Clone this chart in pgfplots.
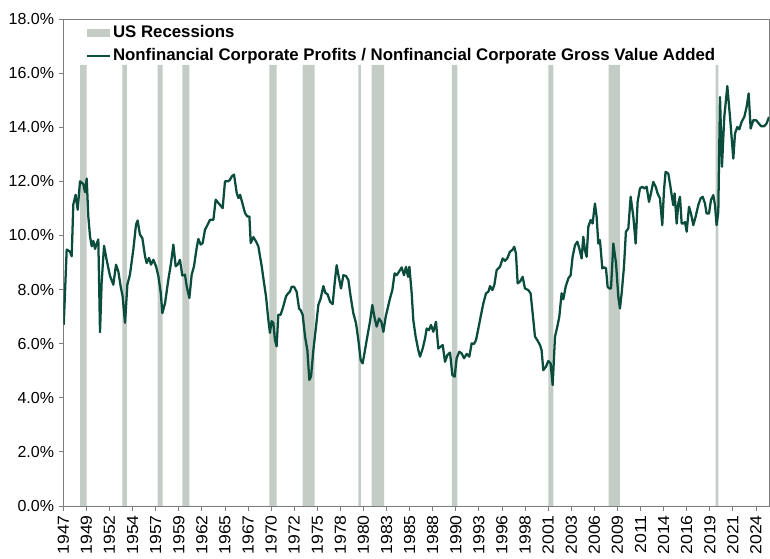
\documentclass[border=0pt]{standalone}
\usepackage{fontspec}
\setmainfont{Liberation Sans}
\newfontfamily\stretchfont[FakeStretch=1.1]{Liberation Sans}
\usepackage{pgfplots}
\usepackage{pgfplotstable}
\pgfplotsset{compat=1.18}
\definecolor{recgray}{RGB}{195,204,197}
\definecolor{linegreen}{RGB}{10,77,60}
\definecolor{axgray}{RGB}{125,125,125}

\pgfplotstableread{
x y
1947.05 6.70
1947.38 9.48
1947.75 9.40
1947.94 9.23
1948.12 11.14
1948.38 11.50
1948.61 10.95
1948.87 12.00
1949.24 11.90
1949.43 11.60
1949.62 12.10
1949.80 10.70
1949.99 9.97
1950.18 9.60
1950.36 9.80
1950.55 9.50
1950.74 9.70
1950.92 9.85
1951.11 6.42
1951.29 8.24
1951.56 9.62
1951.85 9.10
1952.23 8.50
1952.60 8.18
1952.90 8.92
1953.16 8.67
1953.42 8.12
1953.64 7.75
1953.91 6.77
1954.17 8.18
1954.46 8.55
1954.84 9.48
1955.14 10.40
1955.32 10.55
1955.58 10.03
1955.85 9.90
1956.15 9.23
1956.33 8.98
1956.59 9.17
1956.82 8.92
1957.09 9.10
1957.38 8.86
1957.64 8.50
1957.91 7.87
1958.09 7.13
1958.39 7.50
1958.76 8.37
1959.06 8.98
1959.32 9.66
1959.58 8.86
1959.80 8.92
1960.06 9.10
1960.32 8.52
1960.62 8.55
1960.81 8.12
1961.11 7.69
1961.37 8.55
1961.63 8.86
1961.93 9.54
1962.12 9.87
1962.38 9.66
1962.60 9.72
1962.86 10.21
1963.16 10.40
1963.42 10.58
1963.80 10.58
1964.06 11.32
1964.36 11.20
1964.84 11.01
1965.10 12.00
1965.47 12.00
1965.66 12.06
1965.85 12.18
1966.11 12.25
1966.41 11.57
1966.60 11.38
1966.79 11.50
1967.04 11.20
1967.34 10.83
1967.60 10.70
1967.83 10.70
1967.98 9.72
1968.28 9.94
1968.57 9.78
1968.83 9.60
1969.21 8.86
1969.47 8.24
1969.69 7.75
1969.95 6.89
1970.13 6.40
1970.32 6.83
1970.51 6.77
1970.69 6.15
1970.88 5.90
1971.07 7.07
1971.33 7.07
1971.63 7.38
1971.93 7.75
1972.19 7.87
1972.38 7.93
1972.56 8.10
1972.83 8.10
1973.12 7.92
1973.39 7.30
1973.57 7.24
1973.80 7.06
1974.06 6.26
1974.32 5.76
1974.54 4.66
1974.73 4.78
1974.99 5.76
1975.29 6.63
1975.55 7.43
1975.81 7.67
1976.11 8.13
1976.33 7.88
1976.59 7.82
1976.86 7.55
1977.15 7.46
1977.41 8.35
1977.60 8.90
1977.83 8.47
1978.09 8.04
1978.35 8.53
1978.65 8.50
1978.91 8.35
1979.17 7.73
1979.47 7.12
1979.77 6.75
1980.03 6.13
1980.29 5.39
1980.51 5.27
1980.77 5.76
1981.03 6.26
1981.33 6.81
1981.59 7.43
1981.82 7.00
1982.08 6.63
1982.34 6.93
1982.60 6.81
1982.83 6.44
1983.09 7.00
1983.35 7.36
1983.57 7.67
1983.83 7.98
1984.09 8.60
1984.32 8.53
1984.58 8.66
1984.88 8.82
1985.14 8.53
1985.36 8.84
1985.59 8.47
1985.74 8.84
1986.00 7.86
1986.18 6.87
1986.44 6.26
1986.74 5.76
1986.93 5.52
1987.23 5.82
1987.49 6.19
1987.68 6.56
1987.94 6.50
1988.16 6.69
1988.42 6.44
1988.72 6.81
1988.98 5.82
1989.24 5.89
1989.47 5.95
1989.73 5.33
1989.99 5.58
1990.29 5.67
1990.55 4.84
1990.81 4.78
1991.03 5.46
1991.33 5.70
1991.59 5.64
1991.86 5.46
1992.15 5.62
1992.45 5.52
1992.71 6.01
1992.97 5.99
1993.20 6.13
1993.46 6.56
1993.72 7.00
1994.02 7.49
1994.32 7.86
1994.58 7.92
1994.77 8.13
1995.03 7.98
1995.25 8.17
1995.51 8.72
1995.88 8.84
1996.18 9.15
1996.44 9.06
1996.70 9.15
1997.00 9.40
1997.26 9.46
1997.48 9.58
1997.67 9.33
1997.86 8.23
1998.12 8.29
1998.42 8.47
1998.68 8.04
1999.05 7.98
1999.31 7.86
1999.54 7.12
1999.80 6.26
2000.06 6.13
2000.36 5.95
2000.54 5.76
2000.73 5.02
2001.03 5.15
2001.29 5.36
2001.55 5.27
2001.78 4.47
2002.04 6.26
2002.30 6.63
2002.52 6.99
2002.78 7.86
2002.97 7.64
2003.23 8.10
2003.53 8.41
2003.79 8.53
2004.01 9.21
2004.28 9.64
2004.54 9.77
2004.76 9.52
2005.02 9.15
2005.21 9.95
2005.39 9.46
2005.58 9.21
2005.77 10.32
2006.03 10.57
2006.25 10.44
2006.51 11.18
2006.70 10.69
2006.89 9.70
2007.07 9.83
2007.34 8.78
2007.56 8.82
2007.75 8.78
2007.93 8.10
2008.12 8.04
2008.31 8.04
2008.57 9.70
2008.87 8.97
2009.13 7.73
2009.31 7.30
2009.50 7.86
2009.76 8.84
2009.98 10.14
2010.25 10.26
2010.51 11.43
2010.81 10.69
2011.07 9.70
2011.29 11.24
2011.55 11.74
2011.81 11.80
2012.04 11.74
2012.30 11.80
2012.56 11.24
2012.78 11.55
2013.04 11.98
2013.31 11.80
2013.53 11.55
2013.79 11.37
2014.05 10.38
2014.24 11.67
2014.42 12.35
2014.72 12.29
2014.91 11.92
2015.10 11.49
2015.28 11.12
2015.43 11.55
2015.66 10.44
2015.84 11.18
2016.03 11.43
2016.22 10.44
2016.40 10.44
2016.59 10.50
2016.78 10.14
2017.04 11.06
2017.26 10.81
2017.52 10.38
2017.78 10.69
2018.08 11.12
2018.34 11.37
2018.57 11.43
2018.83 11.18
2019.01 10.81
2019.28 10.81
2019.50 11.31
2019.76 11.49
2019.95 11.12
2020.13 10.38
2020.32 10.87
2020.51 15.12
2020.73 12.54
2020.99 14.38
2021.33 15.52
2021.63 14.38
2022.00 12.84
2022.19 13.77
2022.45 14.01
2022.67 13.92
2022.93 14.20
2023.23 14.38
2023.49 14.75
2023.72 15.25
2023.94 13.95
2024.24 14.26
2024.54 14.26
2024.80 14.16
2025.10 14.04
2025.47 14.04
2025.73 14.14
2026.00 14.38
}\profits

\pgfplotstableread{
x y
1947.00 0
1948.87 16.3
1949.62 0
1953.60 16.3
1954.13 0
1957.57 16.3
1958.13 0
1960.32 16.3
1961.10 0
1970.06 16.3
1970.89 0
1973.80 16.3
1975.14 0
1980.02 16.3
1980.32 0
1981.52 16.3
1982.90 0
1990.51 16.3
1991.10 0
2001.29 16.3
2001.85 0
2008.05 16.3
2009.31 0
2020.02 16.3
2020.32 0
2026.00 0
}\recessions

\begin{document}
\begin{tikzpicture}[x=1pt,y=1pt]
\begin{axis}[
  at={(47.475pt,39.75pt)}, anchor=south west,
  scale only axis, width=529.3pt, height=365.25pt,
  xmin=1947, xmax=2026, ymin=0, ymax=18,
  axis line style={draw=axgray, line width=0.6pt},
  tick style={draw=axgray, line width=0.6pt},
  tick align=outside, major tick length=3.4pt,
  xtick pos=bottom, ytick pos=left,
  /pgf/number format/assume math mode=true,
  ticklabel style={font=\fontsize{12}{14}\selectfont, text=black},
  ytick={0,2,...,18},
  yticklabel={\pgfmathprintnumber[fixed,fixed zerofill,precision=1]{\tick}\%},
  xtick={1947.000,1949.585,1952.169,1954.754,1957.338,1959.923,1962.507,1965.092,1967.676,1970.261,1972.845,1975.430,1978.014,1980.599,1983.183,1985.768,1988.352,1990.937,1993.521,1996.106,1998.690,2001.275,2003.859,2006.444,2009.028,2011.613,2014.197,2016.782,2019.366,2021.951,2024.535},
  xticklabels={1947,1949,1952,1954,1957,1959,1962,1965,1967,1970,1972,1975,1978,1980,1983,1985,1988,1990,1993,1996,1998,2001,2003,2006,2009,2011,2014,2016,2019,2021,2024},
  xticklabel style={rotate=90, anchor=east, font=\stretchfont\fontsize{12}{14}\selectfont},
  legend style={at={(0.032,0.993)}, anchor=north west, draw=none, fill=none,
    inner sep=0pt, font=\bfseries\fontsize{12.6}{14}\selectfont, row sep=2.0pt,
    nodes={inner sep=1.5pt, text height=9.4pt, text depth=3pt}},
  legend cell align=left,
]
\addplot[fill=recgray, draw=none, const plot mark left,
  legend image code/.code={\fill[recgray] (0pt,-3.1pt) rectangle (17pt,3.1pt);}]
  table[x=x,y=y] {\recessions} \closedcycle;
\addlegendentry{US Recessions}
\addplot[color=linegreen, line width=1.7pt, line join=round,
  legend image code/.code={\draw[linegreen, line width=1.7pt] (0pt,0pt) -- (17pt,0pt);}]
  table[x=x,y=y] {\profits};
\addlegendentry{Nonfinancial Corporate Profits / Nonfinancial Corporate Gross Value Added}
\end{axis}
\pgfresetboundingbox
\path[use as bounding box] (0,0) rectangle (577.5pt,419.25pt);
\end{tikzpicture}
\end{document}
